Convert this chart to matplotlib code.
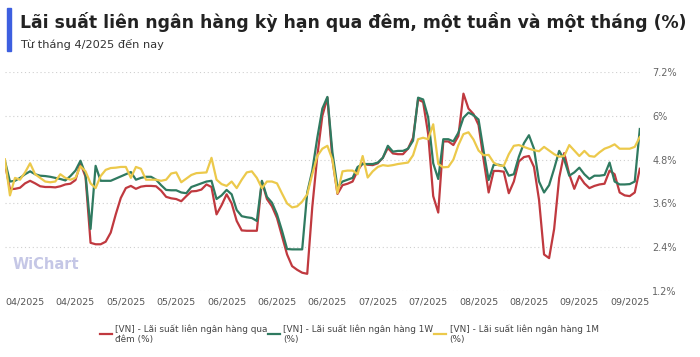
import matplotlib
matplotlib.use("Agg")
import matplotlib.pyplot as plt
from matplotlib.patches import Rectangle
from matplotlib.ticker import FuncFormatter

# Interbank rates (%), one value per session, Apr 2025 -> Sep 2025
overnight = [
    4.70, 3.99, 4.00, 4.03, 4.15, 4.22, 4.15, 4.07, 4.05, 4.05,
    4.04, 4.07, 4.12, 4.14, 4.24, 4.70, 4.33, 2.52, 2.48, 2.48,
    2.55, 2.80, 3.30, 3.75, 4.02, 4.08, 4.00, 4.06, 4.08, 4.08,
    4.07, 3.95, 3.78, 3.74, 3.72, 3.66, 3.80, 3.93, 3.94, 3.98,
    4.12, 4.05, 3.30, 3.55, 3.85, 3.60, 3.12, 2.86, 2.85, 2.85,
    2.85, 4.20, 3.72, 3.52, 3.20, 2.70, 2.20, 1.88, 1.78, 1.70,
    1.67, 3.50, 4.90, 6.00, 6.50, 4.80, 3.86, 4.10, 4.14, 4.20,
    4.50, 4.70, 4.66, 4.65, 4.70, 4.85, 5.12, 4.97, 4.95, 4.95,
    5.10, 5.40, 6.45, 6.38, 5.50, 3.80, 3.35, 5.30, 5.30, 5.20,
    5.45, 6.61, 6.20, 6.05, 5.75, 4.80, 3.90, 4.49, 4.49, 4.47,
    3.88, 4.20, 4.75, 4.87, 4.90, 4.60, 3.70, 2.20, 2.10, 2.90,
    4.30, 4.98, 4.40, 4.00, 4.35, 4.15, 4.02, 4.08, 4.12, 4.14,
    4.50, 4.40, 3.90, 3.82, 3.80, 3.90, 4.55,
]
week1 = [
    4.77, 4.20, 4.22, 4.30, 4.40, 4.48, 4.40, 4.36, 4.35, 4.33,
    4.30, 4.27, 4.23, 4.35, 4.50, 4.77, 4.40, 2.90, 4.63, 4.22,
    4.22, 4.22, 4.28, 4.34, 4.40, 4.46, 4.25, 4.30, 4.33, 4.33,
    4.25, 4.10, 3.97, 3.96, 3.96, 3.90, 3.88, 4.05, 4.10, 4.15,
    4.20, 4.22, 3.72, 3.82, 3.97, 3.85, 3.42, 3.25, 3.22, 3.20,
    3.12, 4.22, 3.78, 3.62, 3.30, 2.85, 2.35, 2.34, 2.34, 2.34,
    3.90, 4.50, 5.40, 6.20, 6.52, 5.00, 4.04, 4.20, 4.25, 4.30,
    4.60, 4.68, 4.68, 4.68, 4.72, 4.85, 5.18, 5.02, 5.04, 5.04,
    5.10, 5.32, 6.50, 6.45, 5.96, 4.70, 4.27, 5.36, 5.36, 5.30,
    5.54, 5.95, 6.09, 6.02, 5.90, 5.04, 4.24, 4.66, 4.66, 4.62,
    4.36, 4.40, 4.88, 5.25, 5.47, 5.10, 4.20, 3.90, 4.10, 4.55,
    5.04, 4.80, 4.36, 4.45, 4.58, 4.40, 4.27, 4.36, 4.36, 4.38,
    4.72, 4.20, 4.12, 4.12, 4.13, 4.20, 5.64,
]
month1 = [
    4.81, 3.82, 4.30, 4.25, 4.45, 4.70, 4.40, 4.30, 4.20, 4.18,
    4.20, 4.40, 4.30, 4.25, 4.30, 4.62, 4.48, 4.15, 4.02, 4.35,
    4.52, 4.57, 4.58, 4.60, 4.60, 4.30, 4.60, 4.55, 4.25, 4.25,
    4.25, 4.22, 4.25, 4.42, 4.45, 4.18, 4.28, 4.38, 4.43, 4.44,
    4.45, 4.85, 4.25, 4.13, 4.08, 4.20, 4.02, 4.25, 4.45, 4.48,
    4.30, 4.02, 4.20, 4.20, 4.15, 3.87, 3.60, 3.49, 3.52, 3.65,
    3.85, 4.40, 4.90, 5.10, 5.18, 4.80, 3.88, 4.48, 4.50, 4.50,
    4.40, 4.90, 4.31, 4.48, 4.60, 4.65, 4.63, 4.65, 4.68, 4.70,
    4.72, 4.92, 5.36, 5.40, 5.36, 5.77, 4.68, 4.59, 4.60, 4.80,
    5.20, 5.50, 5.55, 5.35, 5.05, 4.92, 4.93, 4.72, 4.64, 4.63,
    4.95, 5.18, 5.20, 5.15, 5.10, 5.06, 5.03, 5.15, 5.05, 4.95,
    4.88, 4.90, 5.20, 5.05, 4.90, 5.04, 4.90, 4.88, 5.00, 5.10,
    5.15, 5.22, 5.10, 5.10, 5.10, 5.15, 5.42,
]
tick_idx = [4, 14, 24, 34, 44, 54, 64, 74, 84, 94, 104, 114, 124]
tick_labels = ['04/2025', '04/2025', '05/2025', '05/2025', '06/2025', '06/2025',
               '06/2025', '07/2025', '07/2025', '08/2025', '08/2025', '09/2025',
               '09/2025']
y_ticks = [1.2, 2.4, 3.6, 4.8, 6.0, 7.2]

series_names = ['[VN] - Lãi suất liên ngân hàng qua\nđêm (%)',
                '[VN] - Lãi suất liên ngân hàng 1W\n(%)',
                '[VN] - Lãi suất liên ngân hàng 1M\n(%)']
red = '#c0393f'
green = '#2f7a60'
yellow = '#ecc94b'
gray = '#666666'

fig = plt.figure(figsize=(7, 3.57), dpi=100)
ax = fig.add_axes([0.007, 0.185, 0.907, 0.613])

x = list(range(len(overnight)))
ax.plot(x, overnight, color=red, lw=1.6, label=series_names[0], solid_joinstyle='round')
ax.plot(x, week1, color=green, lw=1.6, label=series_names[1], solid_joinstyle='round')
ax.plot(x, month1, color=yellow, lw=1.6, label=series_names[2], solid_joinstyle='round')

ax.set_xlim(0, len(overnight) - 1)
ax.set_ylim(1.2, 7.2)
ax.set_yticks(y_ticks)
ax.yaxis.set_major_formatter(FuncFormatter(lambda v, p: f'{v:g}%'))
ax.yaxis.tick_right()
ax.set_xticks(tick_idx)
ax.set_xticklabels(tick_labels)
ax.tick_params(axis='y', length=0, pad=9, labelsize=7, labelcolor=gray)
ax.tick_params(axis='x', length=0, pad=5, labelsize=6.8, labelcolor='#555555')
for t in ax.get_yticklabels():
    t.set_horizontalalignment('left')
ax.grid(axis='y', color='#cfcfcf', linestyle=(0, (1, 2.5)), lw=0.8)
for s in ax.spines.values():
    s.set_visible(False)

# watermark
ax.text(0.012, 0.12, 'WiChart', transform=ax.transAxes, fontsize=10.5,
        fontweight='bold', color='#c5c7e6', ha='left', va='center')

# title block
fig.patches.append(Rectangle((7 / 700, 1 - 51 / 357), 4 / 700, 43 / 357,
                             transform=fig.transFigure, color='#3d5fe0'))
fig.text(20 / 700, 1 - 22 / 357, 'Lãi suất liên ngân hàng kỳ hạn qua đêm, một tuần và một tháng (%)',
         fontsize=12.4, fontweight='bold', color='#222222', ha='left', va='center')
fig.text(20 / 700, 1 - 44 / 357, 'Từ tháng 4/2025 đến nay', fontsize=8.2,
         color='#333333', ha='left', va='center')

fig.legend(loc='center', bbox_to_anchor=(0.499, 1 - 334 / 357), ncol=3, frameon=False,
           fontsize=6.4, handlelength=1.3, handletextpad=0.4, columnspacing=0.1,
           labelcolor='#444444')

fig.savefig('out.png', dpi=100, facecolor='white')
